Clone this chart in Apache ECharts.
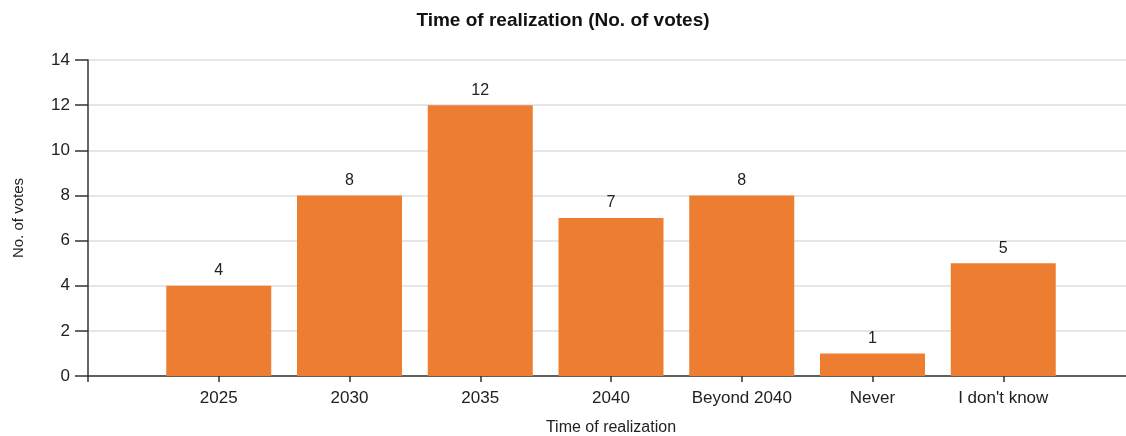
<!DOCTYPE html>
<html>
<head>
<meta charset="utf-8">
<script src="https://cdn.jsdelivr.net/npm/echarts@6/dist/echarts.min.js"></script>
<style>
  html, body { margin: 0; padding: 0; background: #fff; }
  #chart { width: 1126px; height: 436px; }
</style>
</head>
<body>
<div id="chart"></div>
<script>
// data
const categories = ["2025", "2030", "2035", "2040", "Beyond 2040", "Never", "I don't know"];
const votes = [4, 8, 12, 7, 8, 1, 5];
const yTicks = [0, 2, 4, 6, 8, 10, 12, 14];

const font = "Liberation Sans, Arial, sans-serif";

// empty slots at both ends give the outer padding of the axis
const axisData = [""].concat(categories, [""]);
const seriesData = [null].concat(votes, [null]);

const chart = echarts.init(document.getElementById("chart"));

const option = {
  animation: false,
  textStyle: { fontFamily: font },
  title: {
    text: "Time of realization (No. of votes)",
    left: "center",
    top: 6,
    textStyle: { fontFamily: font, fontSize: 19, fontWeight: "bold", color: "#111" }
  },
  grid: {
    top: 60,
    bottom: 60,
    left: 88,
    right: -8,
    containLabel: false,
    outerBoundsMode: "none"
  },
  xAxis: {
    type: "category",
    data: axisData,
    boundaryGap: false,
    name: "Time of realization",
    nameLocation: "middle",
    nameGap: 44,
    nameTextStyle: { fontSize: 16, color: "#222", fontFamily: font },
    axisLine: { lineStyle: { color: "#333", width: 1.5 } },
    axisTick: { show: true, length: 6, alignWithLabel: true, lineStyle: { color: "#333", width: 1.5 } },
    axisLabel: { fontSize: 17, color: "#222", margin: 14, interval: 0, fontFamily: font },
    splitLine: { show: false }
  },
  yAxis: {
    type: "value",
    min: yTicks[0],
    max: yTicks[yTicks.length - 1],
    interval: 2,
    name: "No. of votes",
    nameLocation: "middle",
    nameGap: 62,
    nameRotate: 90,
    nameTextStyle: { fontSize: 15, color: "#222", fontFamily: font },
    axisLine: { show: true, lineStyle: { color: "#333", width: 1.5 } },
    axisTick: { show: true, length: 13, lineStyle: { color: "#333", width: 1.5 } },
    axisLabel: { fontSize: 17, color: "#222", margin: 18, fontFamily: font },
    splitLine: { show: true, lineStyle: { color: "#dedede", width: 1.5 } }
  },
  series: [
    {
      type: "bar",
      data: seriesData,
      barWidth: 105,
      itemStyle: { color: "#ED7D31" },
      label: {
        show: true,
        position: "top",
        distance: 7,
        fontSize: 16,
        color: "#222",
        fontFamily: font
      }
    }
  ]
};

chart.setOption(option);
</script>
</body>
</html>
